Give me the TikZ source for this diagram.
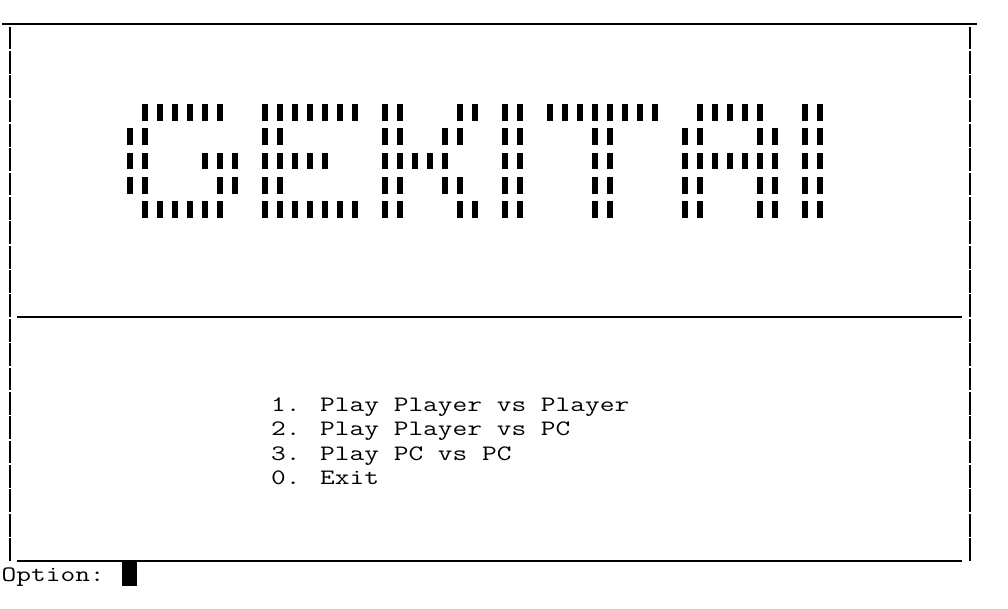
\documentclass[tikz,border=0pt]{standalone}
\usepackage{graphicx}
\usepackage{xcolor}
\usepackage{tikz}
\definecolor{ink}{HTML}{000000}
\newcommand{\termtext}[1]{\scalebox{1.2987}[1]{\fontsize{22}{24}\selectfont\ttfamily #1}}
\tikzset{
  rule/.style={draw=ink, line width=2pt},
  wall/.style={draw=ink, line width=2pt},
  bar/.style={fill=ink},
  termline/.style={anchor=base west, inner sep=0pt, text=ink}
}
\begin{document}
\begin{tikzpicture}[x=1pt,y=-1pt]
  \useasboundingbox (0,0) rectangle (1008,608);
  % frame
  \draw[rule] (2,24)--(977,24);
  \draw[rule] (17,317)--(962,317);
  \draw[rule] (17,561)--(962,561);
  \foreach \k in {0,...,21}{
    \draw[wall] (10,26.5+24.36*\k)--(10,49.3+24.36*\k);
    \draw[wall] (970.3,26.5+24.36*\k)--(970.3,49.3+24.36*\k);
  }
  % banner
  \foreach \row/\cols in {
    0/{9,10,11,12,13,14,17,18,19,20,21,22,23,25,26,30,31,33,34,36,37,38,39,40,41,42,43,46,47,48,49,50,53,54},
    1/{8,9,17,18,25,26,29,30,33,34,39,40,45,46,50,51,53,54},
    2/{8,9,13,14,15,17,18,19,20,21,25,26,27,28,29,33,34,39,40,45,46,47,48,49,50,51,53,54},
    3/{8,9,14,15,17,18,25,26,29,30,33,34,39,40,45,46,50,51,53,54},
    4/{9,10,11,12,13,14,17,18,19,20,21,22,23,25,26,30,31,33,34,39,40,45,46,50,51,53,54}}{
    \foreach \col in \cols{
      \fill[bar] (7+15*\col,104+24.36*\row) rectangle (12.5+15*\col,120.7+24.36*\row);
    }
  }
  % menu
  \node[termline] (one) at (271,411.5) {\termtext{1. Play Player vs Player}};
  \node[termline] (two) at (271,435.9) {\termtext{2. Play Player vs PC}};
  \node[termline] (three) at (271,460.2) {\termtext{3. Play PC vs PC}};
  \node[termline] (zero) at (271,484.6) {\termtext{0. Exit}};
  % prompt
  \node[termline] (prompt) at (1.5,581) {\termtext{Option:}};
  \fill[bar] (122,562) rectangle (137,586);
\end{tikzpicture}
\end{document}
